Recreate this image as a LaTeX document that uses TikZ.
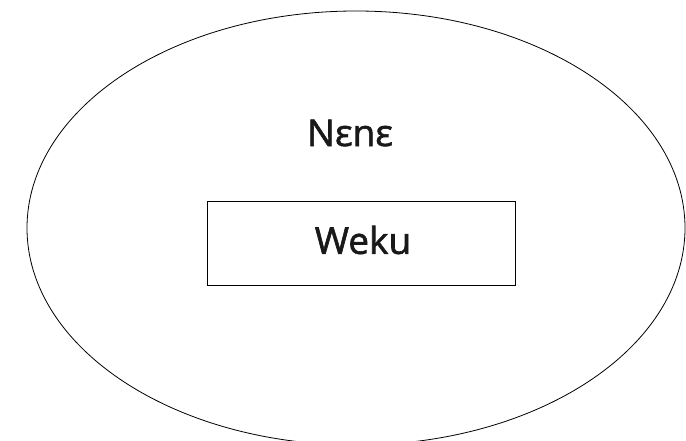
\documentclass[tikz,border=0pt]{standalone}
\usepackage{fontspec}
\setmainfont{Open Sans}
\newfontfamily\lblfont{Open Sans}[FakeBold=1.6]
\usetikzlibrary{shapes.geometric}
\begin{document}
\begin{tikzpicture}[x=1pt,y=-1pt,
  outer/.style={draw, line width=0.8pt, ellipse, minimum width=658pt, minimum height=434pt, inner sep=0pt},
  box/.style={draw, line width=0.8pt, rectangle, minimum width=308pt, minimum height=84pt, inner sep=0pt},
  lbl/.style={font=\lblfont\fontsize{37}{44}\selectfont, text=black!90}]
\useasboundingbox (0,0) rectangle (686,441);
\node[outer] (world) at (356,228) {};
\node[lbl] (nene) at (350,133) {Nεnε};
\node[box] (weku) at (361,243) {};
\node[lbl] (wekut) at (363,240) {Weku};
\end{tikzpicture}
\end{document}
